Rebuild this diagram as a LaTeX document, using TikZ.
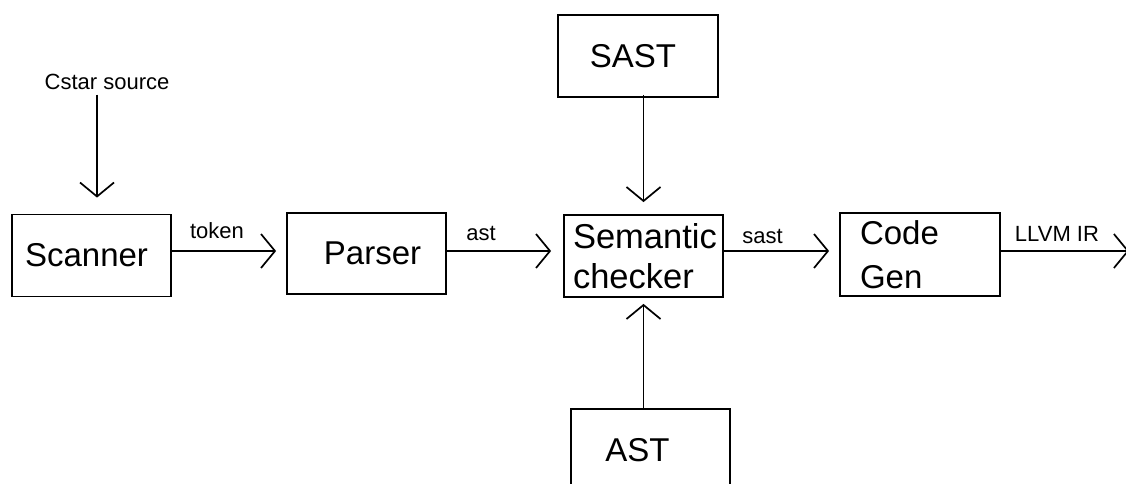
\documentclass[tikz,border=0pt]{standalone}
\usepackage{fontspec}
\setmainfont{Liberation Sans}
\usetikzlibrary{arrows.meta}
\begin{document}
\begin{tikzpicture}[x=1pt,y=-1pt,line width=1.7pt,
  box/.style={draw,line width=1.8pt,minimum width=159pt,minimum height=82pt,inner sep=0pt,font=\fontsize{33}{40}\selectfont},
  lbl/.style={font=\fontsize{22}{26}\selectfont,inner sep=0pt},
  arr/.style={-{Straight Barb[length=14pt,width=34pt,line width=1.7pt]}}]
\useasboundingbox (0,0) rectangle (1126,484);
\clip (0,0) rectangle (1126,484);
\node[box] (scanner) at (91.5,255.5) {\hspace*{-10pt}Scanner};
\node[box,minimum height=81pt] (parser) at (366.5,253.5) {\hspace*{12pt}Parser};
\node[box,align=left,text width=149pt,inner xsep=5pt,font=\fontsize{34.5}{40}\selectfont] (sem) at (643.5,256) {\hspace*{4pt}Semantic\\\hspace*{4pt}checker};
\node[box,align=left,text width=120pt,inner xsep=20pt,minimum height=83pt,font=\fontsize{33}{44}\selectfont] (code) at (920,254.5) {Code\\Gen};
\node[box,minimum width=160pt] (sast) at (638,56) {\hspace*{-10pt}SAST};
\node[box] (ast) at (650.5,450) {\hspace*{-26pt}AST};
\node[lbl] (src) at (107,82) {Cstar source};
\coordinate (out) at (1129,251);
\draw[arr] ([xshift=-10pt]src.south) ++(0,-4pt) -- ([xshift=5.5pt,yshift=16pt]scanner.north);
\draw[arr] ([yshift=4.5pt]scanner.east) -- node[lbl,above=11pt,xshift=-7pt] (tok) {token} ([xshift=-10pt,yshift=2.5pt]parser.west);
\draw[arr] ([yshift=2.5pt]parser.east) -- node[lbl,above=9pt,xshift=-18pt] (astl) {ast} ([xshift=-12pt,yshift=5pt]sem.west);
\draw[arr] ([yshift=5pt]sem.east) -- node[lbl,above=6pt,xshift=-14pt] (sastl) {sast} ([xshift=-10pt,yshift=3.5pt]code.west);
\draw[arr] ([yshift=3.5pt]code.east) -- node[lbl,above=9pt,xshift=-8pt] (llvm) {LLVM IR} (out);
\draw[arr] (sem.north |- sast.south) ++(0,3pt) -- ([yshift=12pt]sem.north);
\draw[arr] (sem.south |- ast.north) -- ([yshift=-6pt]sem.south);
\end{tikzpicture}
\end{document}
